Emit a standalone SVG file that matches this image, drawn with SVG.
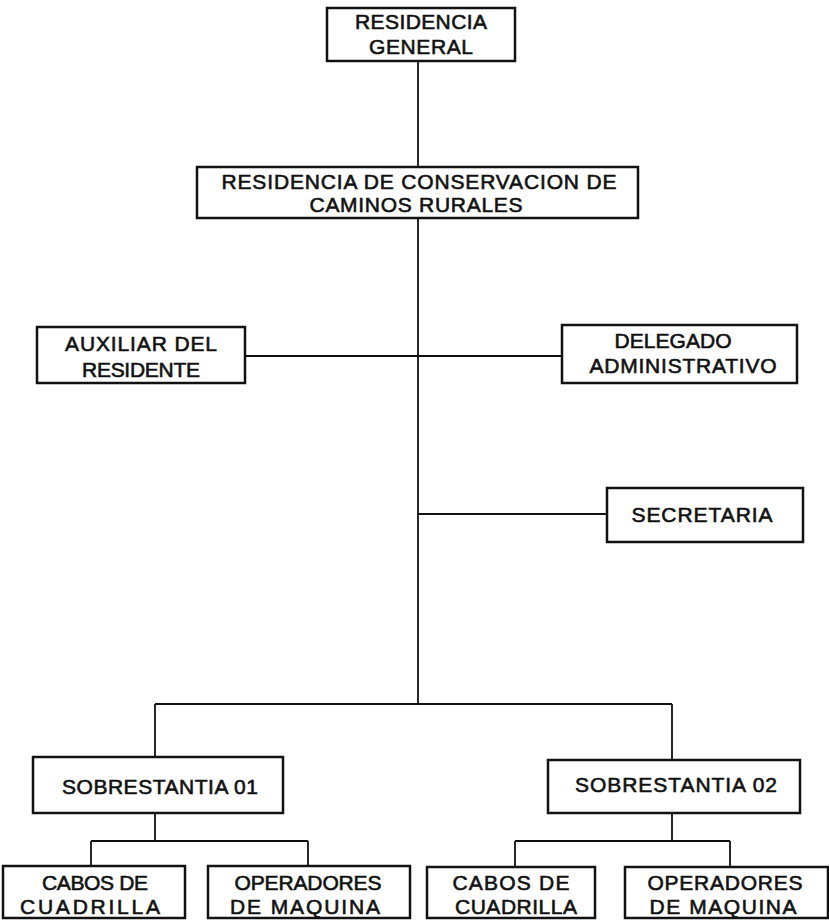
<svg xmlns="http://www.w3.org/2000/svg" width="829" height="921" viewBox="0 0 829 921">
<style>
.box{fill:#fff;stroke:#111;stroke-width:2.5}
.ln{fill:none;stroke:#111;stroke-width:1.8}
text{font-family:"Liberation Sans","DejaVu Sans",sans-serif;font-size:21px;fill:#111;stroke:#111;stroke-width:0.6;text-anchor:middle}
</style>
<rect width="829" height="921" fill="#fff"/>
<g id="connectors">
<path class="ln" d="M418,61 V167 M418,218 V704 M245,356 H562 M418,514 H607 M155,704 H672 M155,704 V757 M672,704 V760 M155,813 V841 M91,841 H308 M91,841 V866 M308,841 V866 M672,813 V841 M515,841 H730 M515,841 V867 M730,841 V867"/>
</g>
<g id="n-general">
<rect class="box" x="327" y="8" width="188" height="53"/>
<text x="421" y="29" textLength="132" lengthAdjust="spacing">RESIDENCIA</text>
<text x="421" y="54" textLength="104" lengthAdjust="spacing">GENERAL</text>
</g>
<g id="n-conservacion">
<rect class="box" x="197" y="167" width="441" height="51"/>
<text x="419" y="189" textLength="395" lengthAdjust="spacing">RESIDENCIA DE CONSERVACION DE</text>
<text x="416" y="212" textLength="213" lengthAdjust="spacing">CAMINOS RURALES</text>
</g>
<g id="n-auxiliar">
<rect class="box" x="37" y="327" width="208" height="56"/>
<text x="141" y="351" textLength="152" lengthAdjust="spacing">AUXILIAR DEL</text>
<text x="141" y="377" textLength="118" lengthAdjust="spacing">RESIDENTE</text>
</g>
<g id="n-delegado">
<rect class="box" x="562" y="325" width="235" height="58"/>
<text x="673" y="348" textLength="117" lengthAdjust="spacing">DELEGADO</text>
<text x="683" y="373" textLength="187" lengthAdjust="spacing">ADMINISTRATIVO</text>
</g>
<g id="n-secretaria">
<rect class="box" x="607" y="488" width="196" height="54"/>
<text x="702" y="522" textLength="141" lengthAdjust="spacing">SECRETARIA</text>
</g>
<g id="n-sob01">
<rect class="box" x="33" y="757" width="250" height="56"/>
<text x="160" y="794" textLength="196" lengthAdjust="spacing">SOBRESTANTIA 01</text>
</g>
<g id="n-sob02">
<rect class="box" x="548" y="760" width="252" height="53"/>
<text x="676" y="792" textLength="202" lengthAdjust="spacing">SOBRESTANTIA 02</text>
</g>
<g id="n-cabos1">
<rect class="box" x="3" y="866" width="182" height="52"/>
<text x="95" y="890" textLength="106" lengthAdjust="spacing">CABOS DE</text>
<text x="90" y="914" textLength="140" lengthAdjust="spacing">CUADRILLA</text>
</g>
<g id="n-oper1">
<rect class="box" x="208" y="866" width="202" height="52"/>
<text x="308" y="890" textLength="147" lengthAdjust="spacing">OPERADORES</text>
<text x="305" y="914" textLength="150" lengthAdjust="spacing">DE MAQUINA</text>
</g>
<g id="n-cabos2">
<rect class="box" x="427" y="867" width="168" height="51"/>
<text x="511" y="890" textLength="117" lengthAdjust="spacing">CABOS DE</text>
<text x="516" y="914" textLength="122" lengthAdjust="spacing">CUADRILLA</text>
</g>
<g id="n-oper2">
<rect class="box" x="625" y="867" width="203" height="51"/>
<text x="725" y="890" textLength="155" lengthAdjust="spacing">OPERADORES</text>
<text x="723" y="914" textLength="147" lengthAdjust="spacing">DE MAQUINA</text>
</g>
</svg>
